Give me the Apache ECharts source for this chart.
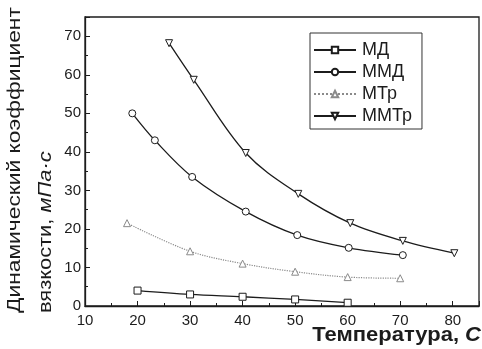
<!DOCTYPE html>
<html>
<head>
<meta charset="utf-8">
<script src="https://cdn.jsdelivr.net/npm/echarts@6/dist/echarts.min.js"></script>
<style>
  html, body { margin: 0; padding: 0; background: #fff; }
  #chart { width: 482px; height: 349px; }
</style>
</head>
<body>
<div id="chart"></div>
<script>
// Viscosity vs temperature — four oil blends.
const mdX = [20, 30, 40, 50, 60];
const mdY = [4.0, 3.0, 2.4, 1.7, 0.85];
const mmdX = [19, 23.3, 30.4, 40.6, 50.4, 60.2, 70.5];
const mmdY = [50, 43, 33.5, 24.5, 18.4, 15.1, 13.2];
const mtrX = [18, 30, 40, 50, 60, 70];
const mtrY = [21.5, 14.2, 11, 8.9, 7.5, 7.2];
const mmtrX = [26, 30.7, 40.6, 50.6, 60.5, 70.5, 80.3];
const mmtrY = [68.2, 58.7, 39.7, 29.1, 21.5, 16.9, 13.7];

const seriesNames = ["МД", "ММД", "МТр", "ММТр"];
const yTitle1 = "Динамический коэффициент";
const yTitle2a = "вязкости, ";
const yTitle2b = "мПа·с";
const xTitleA = "Температура, ";
const xTitleB = "C";

const FONT = "'Liberation Sans', Arial, sans-serif";
const INK = "#1c1c1c";
const DOWN_TRI = "path://M0,0 L10,0 L5,9 Z";

const zip = (xs, ys) => xs.map((x, i) => [x, ys[i]]);

function lineSeries(name, data, symbol, color, type) {
  return {
    name,
    type: "line",
    data,
    smooth: 0.35,
    symbol,
    symbolSize: 7,
    showSymbol: true,
    itemStyle: { color: "#fff", borderColor: color, borderWidth: 1 },
    lineStyle: { color, width: type === "solid" ? 1.3 : 1.2, type },
  };
}

const chart = echarts.init(document.getElementById("chart"), null, { renderer: "canvas" });

chart.setOption({
  animation: false,
  backgroundColor: "#fff",
  textStyle: { fontFamily: FONT },
  grid: {
    left: 85, right: 3, top: 17, bottom: 43,
    show: true, borderColor: INK, borderWidth: 1.3,
  },
  legend: {
    orient: "vertical",
    left: 310, top: 33,
    padding: [8, 10, 4, 3],
    itemGap: 4,
    itemWidth: 42, itemHeight: 8,
    borderColor: "#333", borderWidth: 1,
    textStyle: { fontFamily: FONT, fontSize: 18, lineHeight: 18, color: INK, padding: [0, 0, 0, 1] },
    data: seriesNames,
  },
  xAxis: {
    type: "value",
    min: 10, max: 85, interval: 10,
    axisLine: { lineStyle: { color: INK, width: 1.3 } },
    axisTick: { inside: true, length: 5, lineStyle: { color: INK } },
    minorTick: { show: true, splitNumber: 2, length: 3, lineStyle: { color: INK } },
    axisLabel: { showMaxLabel: false, color: INK, fontSize: 15, margin: 7, fontFamily: FONT },
    splitLine: { show: false },
  },
  yAxis: {
    type: "value",
    min: 0, max: 75, interval: 10,
    axisLine: { show: true, lineStyle: { color: INK, width: 1.3 } },
    axisTick: { show: true, inside: true, length: 5, lineStyle: { color: INK } },
    minorTick: { show: true, splitNumber: 2, length: 3, lineStyle: { color: INK } },
    axisLabel: { showMaxLabel: false, color: INK, fontSize: 15, margin: 4, fontFamily: FONT },
    splitLine: { show: false },
  },
  graphic: [
    {
      // scan is stretched along the title direction, so scaleX widens the run
      type: "text", x: 15, y: 313, rotation: Math.PI / 2, scaleX: 1.2,
      style: {
        text: yTitle1, fill: INK, font: "19px " + FONT,
        textAlign: "left", textVerticalAlign: "middle",
      },
    },
    {
      type: "text", x: 46, y: 313, rotation: Math.PI / 2, scaleX: 1.15,
      style: {
        text: "{a|" + yTitle2a + "}{b|" + yTitle2b + "}",
        textAlign: "left", textVerticalAlign: "middle",
        rich: {
          a: { fill: INK, fontSize: 19, fontFamily: FONT },
          b: { fill: INK, fontSize: 19, fontFamily: FONT, fontStyle: "italic" },
        },
      },
    },
    {
      type: "text", x: 481, y: 335, scaleX: 1.1,
      style: {
        text: "{a|" + xTitleA + "}{b|" + xTitleB + "}",
        textAlign: "right", textVerticalAlign: "middle",
        rich: {
          a: { fill: INK, fontSize: 20, fontWeight: "bold", fontFamily: FONT },
          b: { fill: INK, fontSize: 20, fontWeight: "bold", fontStyle: "italic", fontFamily: FONT },
        },
      },
    },
  ],
  series: [
    lineSeries(seriesNames[0], zip(mdX, mdY), "rect", INK, "solid"),
    lineSeries(seriesNames[1], zip(mmdX, mmdY), "circle", INK, "solid"),
    lineSeries(seriesNames[2], zip(mtrX, mtrY), "triangle", "#8a8a8a", "dotted"),
    lineSeries(seriesNames[3], zip(mmtrX, mmtrY), DOWN_TRI, INK, "solid"),
  ],
});
</script>
</body>
</html>
